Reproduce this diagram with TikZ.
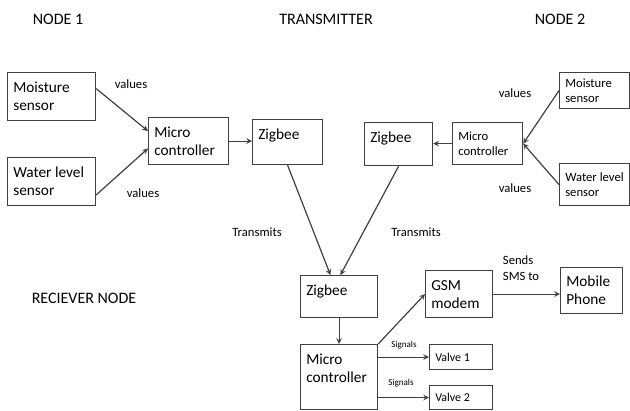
\documentclass[tikz,border=0pt]{standalone}
\usepackage{fontspec}
\setmainfont{Carlito}
\usepackage{tikz}
\usetikzlibrary{calc}
\usetikzlibrary{positioning}

\begin{document}
\begin{tikzpicture}[
        x=0.75pt, y=-0.75pt,
        blk/.style={draw=black!75, line width=0.9pt, anchor=north west, inner sep=0},
        txt/.style={inner sep=0, align=left},
        big/.style={font=\fontsize{11.5}{13.5}\selectfont},
        mid/.style={font=\fontsize{9.5}{11.5}\selectfont},
        sml/.style={font=\fontsize{9}{11}\selectfont},
        hdr/.style={inner sep=0, font=\fontsize{12}{14}\selectfont},
        note/.style={inner sep=0, align=left, font=\fontsize{9.5}{11.5}\selectfont},
        tiny/.style={inner sep=0, font=\fontsize{6.8}{8}\selectfont},
        link/.style={->, draw=black!75, line width=0.9pt},
        >=stealth
    ]
        \useasboundingbox (0,0) rectangle (630,410);

        % blocks: name/x/y/width/height/text/font/anchor/dy
        \def\blocks{
            ms1/7/72/88/48/{Moisture\\sensor}/big/west/0,
            wl1/7/157/88/48/{Water level\\sensor}/big/west/0,
            mc1/148/117/80/47/{Micro\\controller}/big/west/0,
            zb1/252/119/70/45/{Zigbee}/big/north west/-7,
            zb2/364/122/68/43/{Zigbee}/big/north west/-7,
            mc2/452/122/70/42/{Micro\\controller}/mid/west/0,
            ms2/559/72/70/36/{Moisture\\sensor}/mid/west/0,
            wl2/559/163/70/42/{Water level\\sensor}/mid/west/0,
            zb3/300/275/77/42/{Zigbee}/big/north west/-7,
            mc3/300/344/77/65/{Micro\\controller}/big/north west/-7,
            gsm/425/270/67/47/{GSM\\modem}/big/west/0,
            mob/560/267/62/46/{Mobile\\Phone}/big/west/0,
            v1/429/344/63/25/{Valve 1}/sml/west/0,
            v2/429/385/63/24/{Valve 2}/sml/west/0
        }

        % draw blocks
        \foreach \nm/\x/\y/\w/\h/\t/\f/\a/\dy in \blocks {
            \node[blk, minimum width=\w*0.75pt, minimum height=\h*0.75pt] (\nm) at (\x,\y) {};
            \node[txt, \f, anchor=\a] (\nm-t) at ([xshift=4.5pt, yshift=\dy pt]\nm.\a) {\t};
        }

        % headers
        \node[hdr] (hdr1) at (58,19) {NODE 1};
        \node[hdr] (hdr2) at (326,19) {TRANSMITTER};
        \node[hdr] (hdr3) at (560,19) {NODE 2};
        \node[hdr] (hdr4) at (84,298) {RECIEVER NODE};

        % node 1
        \draw[link] ([yshift=6pt]ms1.east) -- ([yshift=7.5pt]mc1.west);
        \draw[link] ([yshift=-10pt]wl1.east) -- ([yshift=-5.5pt]mc1.west);
        \draw[link] (mc1.east) -- (mc1.east -| zb1.west);
        \node[note] (val1) at (131,84) {values};
        \node[note] (val2) at (143,193) {values};

        % node 2
        \draw[link] (ms2.west) -- (mc2.east);
        \draw[link] (wl2.west) -- (mc2.east);
        \draw[link] (mc2.west) -- (mc2.west -| zb2.east);
        \node[note] (val3) at (515,93) {values};
        \node[note] (val4) at (515,188) {values};

        % transmit to receiver
        \draw[link] (zb1.south) -- ([xshift=-6.5pt]zb3.north);
        \draw[link] (zb2.south) -- ([xshift=1pt]zb3.north);
        \node[note] (tx1) at (257,232) {Transmits};
        \node[note] (tx2) at (416,232) {Transmits};

        % receiver node
        \draw[link] (zb3.south) -- (mc3.north);
        \draw[link] (mc3.north east) -- (gsm.west);
        \draw[link] (gsm.east) -- (gsm.east -| mob.west);
        \draw[link] (mc3.east |- v1.west) -- (v1.west);
        \draw[link] (mc3.east |- v2.west) -- (v2.west);
        \node[note] (sms) at (521,268) {Sends\\SMS to};
        \node[tiny] (sig1) at (404,345) {Signals};
        \node[tiny] (sig2) at (401,383) {Signals};

    \end{tikzpicture}
\end{document}
